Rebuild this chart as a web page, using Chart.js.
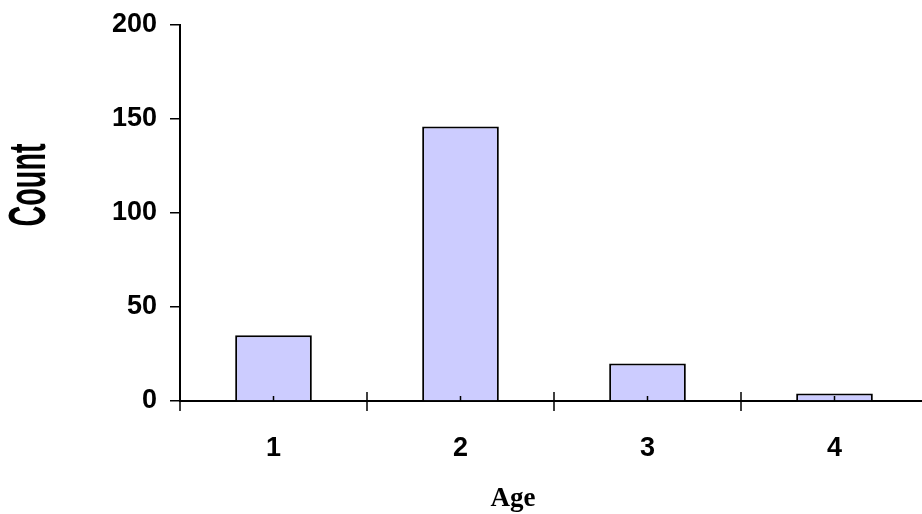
<!DOCTYPE html>
<html>
<head>
<meta charset="utf-8">
<script src="https://cdn.jsdelivr.net/npm/chart.js@4"></script>
<style>
  html, body { margin: 0; padding: 0; overflow: hidden; background: #fff; }
  #wrap { width: 940px; height: 514px; }
</style>
</head>
<body>
<div id="wrap"><canvas id="myChart" width="940" height="514"></canvas></div>
<script>
// data
const ageLabels = ['1', '2', '3', '4'];
const counts = [35, 146, 20, 4];
const yTicks = [0, 50, 100, 150, 200];
const xTitle = 'Age';
const yTitle = 'Count';

const ctx = document.getElementById('myChart').getContext('2d');

// excel-like ticks on the category axis and the two axis titles
const decorations = {
    id: 'decorations',
    afterDraw(chart) {
        const c = chart.ctx;
        const x = chart.scales.x;
        const y = chart.scales.y;
        const y0 = y.getPixelForValue(0);
        const step = x.getPixelForValue(1) - x.getPixelForValue(0);
        c.save();
        c.strokeStyle = '#000';
        c.lineWidth = 1.5;
        c.beginPath();
        for (let i = 0; i <= ageLabels.length; i++) {
            const bx = x.getPixelForValue(i) - step / 2;
            c.moveTo(bx, y0 - 9);
            c.lineTo(bx, y0 + 10);
        }
        for (let i = 0; i < ageLabels.length; i++) {
            const cx = x.getPixelForValue(i);
            c.moveTo(cx, y0 - 5);
            c.lineTo(cx, y0);
        }
        c.stroke();

        c.fillStyle = '#000';
        c.textAlign = 'center';
        c.textBaseline = 'middle';
        c.font = 'bold 27px "Liberation Serif"';
        c.fillText(xTitle, 513, 499);

        c.translate(31, 185);
        c.rotate(-Math.PI / 2);
        c.scale(0.72, 1.3);
        c.font = 'bold 40px "Liberation Sans"';
        c.fillText(yTitle, 0, 0);
        c.restore();
    }
};

new Chart(ctx, {
    type: 'bar',
    data: {
        labels: ageLabels,
        datasets: [{
            label: yTitle,
            data: counts,
            backgroundColor: '#CCCCFF',
            borderColor: '#000',
            borderWidth: 2,
            categoryPercentage: 1,
            barPercentage: 0.41
        }]
    },
    options: {
        responsive: false,
        animation: false,
        layout: { padding: { top: 25, right: 12, left: 0, bottom: 0 } },
        plugins: {
            legend: { display: false },
            tooltip: { enabled: false }
        },
        scales: {
            x: {
                afterFit: s => { s.height = 113; s.paddingLeft = 0; s.paddingRight = 0; },
                grid: { display: false },
                border: { display: true, color: '#000', width: 2 },
                ticks: {
                    padding: 23,
                    color: '#000',
                    font: { family: '"Liberation Sans"', weight: 'bold', size: 27 }
                }
            },
            y: {
                min: 0,
                max: 200,
                afterFit: s => { s.width = 180; s.paddingTop = 0; s.paddingBottom = 0; },
                afterBuildTicks: s => { s.ticks = yTicks.map(v => ({ value: v })); },
                grid: { drawOnChartArea: false, tickLength: 10, color: '#000', lineWidth: 1.5 },
                border: { display: true, color: '#000', width: 2 },
                ticks: {
                    padding: 13,
                    color: '#000',
                    font: { family: '"Liberation Sans"', weight: 'bold', size: 27 }
                }
            }
        }
    },
    plugins: [decorations]
});
</script>
</body>
</html>
